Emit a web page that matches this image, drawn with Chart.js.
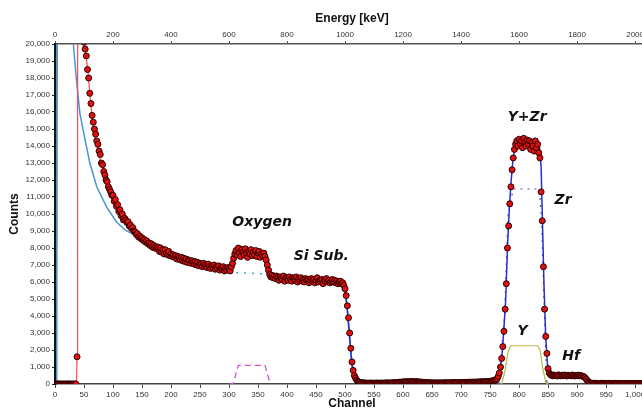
<!DOCTYPE html>
<html lang="en">
<head>
<meta charset="UTF-8" />
<title>RBS spectrum</title>
<script src="https://cdn.jsdelivr.net/npm/chart.js@4.4.1/dist/chart.umd.min.js"></script>
<style>
  html, body { margin: 0; padding: 0; background: #fff; overflow: hidden; width: 642px; height: 412px; }
  canvas { display: block; }
</style>
</head>
<body>
<canvas id="rbs" width="670" height="412"></canvas>
<script>
// measured spectrum: one value every 2 channels starting at channel 0
const channelStep = 2;
const counts = [
  0, 0, 0, 0, 0, 0, 0, 0, 0, 0,                                          // 0
  0, 0, 0, 0, 0, 0, 0, 0, 0, 1600,                                       // 20
  27000, 25500, 24000, 22500, 21200, 20100, 19700, 19300, 18500, 18000,  // 40
  17100, 16500, 15800, 15400, 15000, 14700, 14300, 14100, 13700, 13500,  // 60
  13000, 12900, 12500, 12300, 12000, 11900, 11600, 11450, 11300, 11100,  // 80
  11100, 10750, 10850, 10450, 10550, 10150, 10250, 9900, 10000, 9650,    // 100
  9750, 9650, 9500, 9550, 9300, 9350, 9150, 9200, 9000, 8950,            // 120
  8800, 8850, 8650, 8700, 8550, 8600, 8450, 8500, 8350, 8420,            // 140
  8250, 8300, 8150, 8250, 8050, 8150, 8000, 8080, 7950, 8050,            // 160
  7800, 8000, 7750, 7900, 7650, 7900, 7700, 7600, 7800, 7550,            // 180
  7650, 7500, 7600, 7450, 7550, 7350, 7500, 7400, 7300, 7450,            // 200
  7250, 7400, 7200, 7350, 7150, 7300, 7250, 7100, 7250, 7150,            // 220
  7050, 7200, 7000, 7150, 6950, 7100, 7050, 6900, 7100, 6950,            // 240
  7000, 6850, 7050, 6900, 6800, 6950, 6850, 7000, 6750, 6900,            // 260
  6800, 6950, 6700, 6850, 6750, 6900, 6650, 6800, 6700, 6850,            // 280
  6750, 6650, 6900, 7100, 7400, 7650, 7850, 7600, 8000, 7700,            // 300
  7500, 7900, 7750, 7600, 7950, 7700, 7450, 7800, 7650, 7900,            // 320
  7550, 7750, 7600, 7850, 7500, 7700, 7800, 7450, 7650, 7550,            // 340
  7700, 7500, 7300, 7000, 6700, 6450, 6300, 6400, 6250, 6350,            // 360
  6200, 6350, 6250, 6100, 6300, 6200, 6150, 6350, 6050, 6250,            // 380
  6200, 6100, 6300, 6150, 6050, 6250, 6200, 6100, 6300, 6000,            // 400
  6200, 6100, 6250, 6050, 6150, 6000, 6200, 6100, 6150, 5950,            // 420
  6100, 6200, 6050, 6150, 5950, 6100, 6250, 6000, 6100, 6050,            // 440
  6150, 5900, 6100, 6050, 6200, 6000, 6100, 5950, 6050, 6150,            // 460
  6000, 6100, 5950, 6050, 5900, 6000, 6050, 5900, 5950, 5800,            // 480
  5600, 5200, 4600, 3900, 3000, 2100, 1300, 800, 500, 350,               // 500
  230, 160, 120, 90, 80, 60, 70, 50, 60, 45,                             // 520
  55, 40, 60, 50, 45, 55, 40, 60, 50, 45,                                // 540
  50, 60, 45, 55, 50, 60, 70, 55, 65, 50,                                // 560
  70, 60, 75, 85, 80, 95, 90, 110, 100, 120,                             // 580
  110, 130, 120, 140, 115, 135, 125, 150, 120, 140,                      // 600
  130, 120, 140, 110, 125, 100, 115, 90, 100, 80,                        // 620
  90, 70, 80, 65, 75, 60, 70, 55, 65, 60,                                // 640
  60, 55, 70, 60, 65, 70, 60, 75, 70, 65,                                // 660
  70, 80, 75, 70, 85, 80, 75, 90, 80, 85,                                // 680
  90, 85, 95, 90, 100, 95, 100, 110, 105, 100,                           // 700
  110, 105, 115, 110, 120, 115, 125, 120, 130, 125,                      // 720
  135, 130, 140, 150, 145, 160, 170, 180, 200, 230,                      // 740
  250, 300, 450, 650, 1000, 1500, 2200, 3100, 4400, 5900,                // 760
  8000, 9300, 10600, 11600, 12600, 13300, 13800, 14100, 14300, 14000,    // 780
  14400, 14150, 14300, 13900, 14450, 14200, 14000, 14350, 14100, 14300,  // 800
  13800, 14200, 14000, 13700, 14300, 13900, 14100, 13600, 13300, 11300,  // 820
  9600, 6900, 4400, 2800, 1800, 900, 650, 560, 520, 480,                 // 840
  530, 490, 510, 470, 540, 500, 480, 520, 490, 530,                      // 860
  500, 470, 520, 490, 510, 480, 530, 500, 470, 510,                      // 880
  490, 520, 480, 500, 470, 460, 420, 360, 280, 190,                      // 900
  110, 70, 50, 45, 40, 35, 45, 40, 35, 30,                               // 920
  40, 35, 30, 40, 35, 30, 35, 40, 30, 35,                                // 940
  30, 35, 40, 30, 35, 25, 30, 35, 30, 25,                                // 960
  30, 25, 35, 30, 25, 30, 35, 25, 30, 25,                                // 980
  30, 25, 30, 35, 25, 30, 25, 30, 25, 30,                                // 1000
  25, 30                                                                 // 1020
];

// simulated total (red)
const redCh  = [0, 37, 38, 39, 49, 51, 54, 57, 60, 63, 66, 70, 75, 81, 87, 93, 100, 108, 118, 130, 141, 155, 170, 192, 220, 250, 280, 300];
const redVal = [0, 0, 1600, 26000, 26000, 19950, 19200, 18300, 17100, 16000, 15200, 14400, 13600, 12800, 12000, 11450, 10900, 10350, 9850, 9250, 8760, 8300, 7950, 7680, 7280, 7010, 6820, 6800];

// Si substrate (light blue)
const siCh  = [0, 3, 4, 31, 32, 37, 43, 52, 60, 72, 89, 106, 121, 140, 170, 200, 250, 300, 310, 360, 372, 400, 450, 490, 498, 503, 507, 511, 515, 520, 528, 545];
const siVal = [0, 0, 24000, 24000, 19840, 17880, 15900, 14350, 13000, 11600, 10400, 9530, 9060, 8700, 7950, 7500, 7000, 6750, 6550, 6480, 6400, 6200, 6080, 5980, 5750, 4700, 3000, 1400, 500, 150, 40, 0];

// fit (dark blue)
const fitCh  = [280, 303, 308, 312, 330, 360, 364, 369, 375, 400, 450, 490, 498, 501, 504, 507, 510, 513, 516, 520, 526, 540, 600, 640, 700, 750, 760, 765, 768, 771, 774, 777, 780, 783, 786, 789, 793, 835, 838, 840, 843, 846, 849, 852, 856, 910, 914, 918, 922, 930, 1023];
const fitVal = [6800, 6850, 7300, 7650, 7750, 7700, 7400, 6700, 6350, 6200, 6080, 5980, 5800, 5300, 4400, 3200, 1900, 900, 450, 200, 80, 40, 90, 90, 70, 120, 200, 450, 950, 1900, 3300, 5000, 8000, 10200, 11800, 13000, 14000, 14000, 12800, 10000, 5800, 2700, 1150, 620, 500, 490, 380, 160, 50, 30, 25];

// element components
const oxCh  = [300, 307, 316, 362, 371];
const oxVal = [0, 0, 1100, 1100, 0];
const zrCh  = [765, 775, 781, 790, 835, 839, 843, 848];
const zrVal = [0, 4000, 10000, 11470, 11470, 9500, 5000, 0];
const yCh   = [765, 770, 776, 781, 785, 832, 836, 841, 846, 850];
const yVal  = [0, 0, 800, 1900, 2250, 2250, 2000, 900, 100, 0];
const hfCh  = [848, 853, 910, 916, 922];
const hfVal = [0, 450, 450, 200, 0];

function pts(xs, ys) { return xs.map((x, i) => ({ x: x, y: ys[i] })); }

const labelSpots = [
  { text: 'Oxygen', ch: 357, y: 9530 },
  { text: 'Si Sub.', ch: 459, y: 7530 },
  { text: 'Y+Zr', ch: 814, y: 15700 },
  { text: 'Zr', ch: 876, y: 10820 },
  { text: 'Y', ch: 806, y: 3120 },
  { text: 'Hf', ch: 890, y: 1650 }
];

const peakLabels = {
  id: 'peakLabels',
  afterDatasetsDraw(chart) {
    const { ctx, scales } = chart;
    ctx.save();
    ctx.font = 'italic bold 14px "DejaVu Sans"';
    ctx.fillStyle = '#111';
    ctx.textAlign = 'center';
    ctx.textBaseline = 'middle';
    labelSpots.forEach(l => {
      ctx.fillText(l.text, scales.x.getPixelForValue(l.ch), scales.y.getPixelForValue(l.y));
    });
    ctx.restore();
  }
};

const measured = counts.map((c, i) => ({ x: i * channelStep, y: c }));

function lineSet(data, color, width, dash, order) {
  return {
    type: 'line', data: data, borderColor: color, borderWidth: width,
    borderDash: dash || [], pointRadius: 0, fill: false, tension: 0, order: order
  };
}

// the Si line under the oxygen bump shows as a teal dotted piece
const siSet = lineSet(pts(siCh, siVal), '#4b93d6', 1.5, null, 4);
const inOxygen = c => c.p0.parsed.x >= 300 && c.p1.parsed.x <= 372;
siSet.segment = {
  borderDash: c => inOxygen(c) ? [2, 6] : undefined,
  borderColor: c => inOxygen(c) ? '#3fb0b0' : undefined
};

const tickFont = { family: 'Liberation Sans', size: 8 };
const narrowFont = { family: '"Liberation Sans Narrow", "Liberation Sans"', size: 8 };
const titleFont = { family: 'Liberation Sans', size: 12, weight: 'bold' };

new Chart(document.getElementById('rbs'), {
  type: 'scatter',
  data: {
    datasets: [
      {
        type: 'scatter', data: measured, order: 0,
        pointRadius: 3, pointBackgroundColor: '#e01010',
        pointBorderColor: '#2a0000', pointBorderWidth: 1
      },
      lineSet(pts(redCh, redVal), '#ff4a4a', 1.2, null, 3),
      siSet,
      lineSet(pts(fitCh, fitVal), '#2a2fc8', 1.5, null, 2),
      lineSet(pts(oxCh, oxVal), '#cc55cc', 1.3, [6, 4], 5),
      lineSet(pts(zrCh, zrVal), '#4a4ad0', 1.2, [2, 5], 5),
      lineSet(pts(yCh, yVal), '#b8b84a', 1.2, null, 5),
      lineSet(pts(hfCh, hfVal), '#2fa02f', 1.2, [2, 4], 5)
    ]
  },
  options: {
    responsive: false,
    animation: false,
    layout: { padding: { left: 0, top: 0, right: 21, bottom: 0 } },
    plugins: { legend: { display: false }, tooltip: { enabled: false } },
    scales: {
      x: {
        type: 'linear', position: 'bottom', min: 0, max: 1024,
        ticks: { stepSize: 50, includeBounds: false, font: narrowFont, color: '#333', padding: 2, maxRotation: 0, autoSkip: false },
        grid: { drawOnChartArea: false, drawTicks: true, tickLength: 4, tickColor: '#444' },
        border: { color: '#444', width: 1.5 },
        title: { display: true, text: 'Channel', font: titleFont, color: '#111', padding: { top: 0, bottom: 1 } },
        afterFit(s) { s.height = 28; }
      },
      x2: {
        type: 'linear', position: 'top', min: 0, max: 2048,
        ticks: { stepSize: 200, includeBounds: false, font: narrowFont, color: '#333', padding: 1, maxRotation: 0, autoSkip: false,
          callback: v => String(v) },
        grid: { drawOnChartArea: false, drawTicks: true, tickLength: 3, tickColor: '#555' },
        border: { color: '#555', width: 1.5 },
        title: { display: true, text: 'Energy [keV]', font: titleFont, color: '#111', padding: { top: 11, bottom: 0 } },
        afterFit(s) { s.height = 44; }
      },
      y: {
        type: 'linear', min: 0, max: 20000,
        ticks: { stepSize: 1000, font: tickFont, color: '#333', padding: 2 },
        grid: { drawOnChartArea: false, drawTicks: true, tickLength: 3, tickColor: '#222' },
        border: { color: '#111', width: 2.5 },
        title: { display: true, text: 'Counts', font: titleFont, color: '#111', padding: { top: 7, bottom: 0 } },
        afterFit(s) { s.width = 55; }
      }
    }
  },
  plugins: [peakLabels]
});
</script>
</body>
</html>
